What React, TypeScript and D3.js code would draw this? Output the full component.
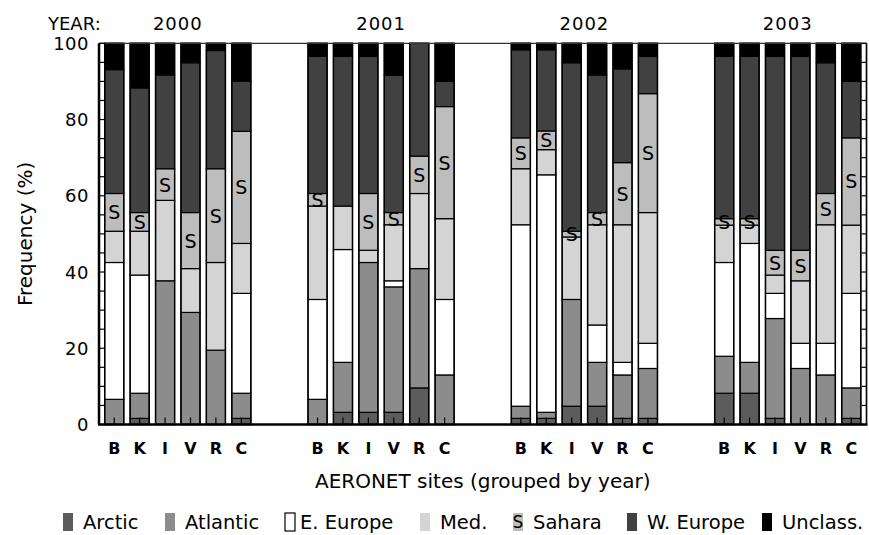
import React from "react";
import * as d3 from "d3";

const years = ["2000", "2001", "2002", "2003"];
const sites = ["B", "K", "I", "V", "R", "C"];
const classes = ["Arctic", "Atlantic", "E. Europe", "Med.", "Sahara", "W. Europe", "Unclass."];

// values per bar, order: 2000 B..C, 2001 B..C, 2002 B..C, 2003 B..C
const arctic = [0, 1.6, 0, 0, 0, 1.6, 0, 3.2, 3.2, 3.2, 9.6, 0, 1.6, 1.6, 4.8, 4.8, 1.6, 1.6, 8.2, 8.2, 1.6, 0, 0, 1.6];
const atlantic = [6.6, 6.6, 37.7, 29.4, 19.5, 6.6, 6.6, 13.1, 39.3, 32.9, 31.3, 13.0, 3.2, 1.6, 28.0, 11.5, 11.4, 13.1, 9.7, 8.1, 26.2, 14.7, 13.0, 8.0];
const eEurope = [35.9, 31.0, 0, 0, 0, 26.2, 26.2, 29.6, 0, 1.6, 0, 19.8, 47.6, 62.3, 0, 9.8, 3.3, 6.6, 24.6, 31.2, 6.6, 6.6, 8.3, 24.8];
const med = [8.2, 11.5, 21.1, 11.5, 23.0, 13.1, 24.5, 11.4, 3.2, 14.7, 19.7, 21.2, 14.7, 6.6, 16.4, 26.3, 36.1, 34.3, 9.8, 4.8, 4.8, 16.4, 31.1, 17.9];
const sahara = [9.9, 4.9, 8.3, 14.7, 24.6, 29.4, 3.3, 0, 14.9, 3.2, 9.8, 29.4, 8.1, 4.9, 1.5, 3.2, 16.3, 31.2, 1.7, 1.7, 6.5, 8.0, 8.2, 22.9];
const wEurope = [32.5, 32.7, 24.6, 39.3, 31.0, 13.2, 36.0, 39.3, 36.0, 36.0, 29.6, 6.6, 23.1, 21.3, 44.2, 36.1, 24.6, 9.8, 42.6, 42.6, 50.9, 50.9, 34.3, 14.8];
const unclass = [6.9, 11.7, 8.3, 5.1, 1.9, 9.9, 3.4, 3.4, 3.4, 8.4, 0, 10.0, 1.7, 1.7, 5.1, 8.3, 6.7, 3.4, 3.4, 3.4, 3.4, 3.4, 5.1, 10.0];

const yTicks = [0, 20, 40, 60, 80, 100];

const series = [arctic, atlantic, eEurope, med, sahara, wEurope, unclass];
const colors = ["#5c5c5c", "#8c8c8c", "#ffffff", "#d4d4d4", "#bdbdbd", "#414141", "#000000"];

const W = 869;
const H = 535;
const FONT = "DejaVu Sans, sans-serif";

export default function App() {
  const x = d3.scaleLinear().domain([-0.6, 29.6]).range([99, 866.5]);
  const y = d3.scaleLinear().domain([0, 100]).range([424.5, 43.3]);
  const slotW = x(1) - x(0);
  const barW = slotW * 0.75;

  const rows: any[] = [];
  years.forEach((yr, g) => {
    sites.forEach((s, j) => {
      const i = g * 6 + j;
      const row: any = { slot: g * 8 + j, site: s, year: yr };
      classes.forEach((c, k) => (row[c] = series[k][i]));
      rows.push(row);
    });
  });

  const stack = d3.stack().keys(classes);
  const stacked = stack(rows as any);

  const minor = d3.range(0, 101, 5);

  const legendX = [63, 165, 285, 420, 513, 627, 762];

  return (
    <svg width={W} height={H} style={{ position: "absolute", left: 0, top: 0, background: "#fff" }} fontFamily={FONT}>
      <rect x={0} y={0} width={W} height={H} fill="#fff" />
      {stacked.map((layer, k) =>
        layer.map((d, i) => {
          const v = d[1] - d[0];
          if (v <= 0) return null;
          const slot = rows[i].slot;
          return (
            <rect
              key={`${k}-${i}`}
              x={x(slot) - barW / 2}
              y={y(d[1])}
              width={barW}
              height={y(d[0]) - y(d[1])}
              fill={colors[k]}
              stroke="#000"
              strokeWidth={1.2}
            />
          );
        })
      )}
      {/* Sahara labels */}
      {stacked[4].map((d, i) => {
        const v = d[1] - d[0];
        if (v <= 0) return null;
        return (
          <text
            key={`s-${i}`}
            x={x(rows[i].slot)}
            y={y((d[0] + d[1]) / 2)}
            textAnchor="middle"
            dominantBaseline="central"
            fontSize={19}
            fill="#000"
          >
            S
          </text>
        );
      })}
      {/* bar outlines */}
      {rows.map((r, i) => (
        <rect key={`o-${i}`} x={x(r.slot) - barW / 2} y={y(100)} width={barW} height={y(0) - y(100)} fill="none" stroke="#000" strokeWidth={1.4} />
      ))}
      {/* axes frame */}
      <line x1={x.range()[0]} x2={x.range()[1]} y1={y(100)} y2={y(100)} stroke="#333" strokeWidth={1.2} />
      <line x1={x.range()[1]} x2={x.range()[1]} y1={y(100)} y2={y(0)} stroke="#000" strokeWidth={1.6} />
      <line x1={x.range()[0]} x2={x.range()[0]} y1={y(100)} y2={y(0)} stroke="#000" strokeWidth={2.5} />
      <line x1={x.range()[0] - 1} x2={x.range()[1] + 1} y1={y(0)} y2={y(0)} stroke="#000" strokeWidth={2.5} />
      {minor.map((t) => (
        <g key={`t-${t}`}>
          <line x1={x.range()[0]} x2={x.range()[0] + 6} y1={y(t)} y2={y(t)} stroke="#000" strokeWidth={1.2} />
          <line x1={x.range()[1]} x2={x.range()[1] - 5} y1={y(t)} y2={y(t)} stroke="#000" strokeWidth={1.2} />
        </g>
      ))}
      {rows.map((r, i) => (
        <line key={`bt-${i}`} x1={x(r.slot)} x2={x(r.slot)} y1={y(0)} y2={y(0) - 7} stroke="#000" strokeWidth={1.2} />
      ))}
      {/* y tick labels */}
      {yTicks.map((t) => (
        <text key={`yl-${t}`} x={89} y={y(t)} textAnchor="end" dominantBaseline="central" fontSize={18} letterSpacing={0.5}>
          {t}
        </text>
      ))}
      <text transform={`translate(32,${(y(0) + y(100)) / 2}) rotate(-90)`} textAnchor="middle" fontSize={20}>
        Frequency (%)
      </text>
      {/* year labels */}
      <text x={48} y={30} fontSize={18}>YEAR:</text>
      {years.map((yr, g) => (
        <text key={yr} x={x(g * 8 + 2.5)} y={30} textAnchor="middle" fontSize={18} letterSpacing={1}>
          {yr}
        </text>
      ))}
      {/* site labels */}
      {rows.map((r, i) => (
        <text key={`sl-${i}`} x={x(r.slot)} y={454} textAnchor="middle" fontSize={16} fontWeight="bold">
          {r.site}
        </text>
      ))}
      <text x={(x.range()[0] + x.range()[1]) / 2} y={488} textAnchor="middle" fontSize={20}>
        AERONET sites (grouped by year)
      </text>
      {/* legend */}
      {classes.map((c, k) => (
        <g key={`lg-${c}`}>
          <rect
            x={legendX[k]}
            y={513}
            width={10}
            height={18}
            fill={colors[k]}
            stroke={k === 2 ? "#000" : "none"}
            strokeWidth={1.2}
          />
          {k === 4 && (
            <text x={legendX[k] + 5} y={522} textAnchor="middle" dominantBaseline="central" fontSize={17}>
              S
            </text>
          )}
          <text x={legendX[k] + (k === 2 ? 15 : 20)} y={529} fontSize={19.5}>
            {c}
          </text>
        </g>
      ))}
    </svg>
  );
}
